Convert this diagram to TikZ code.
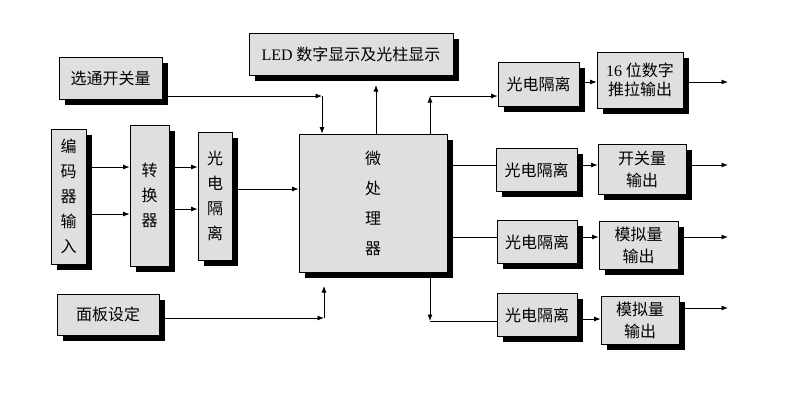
\documentclass[tikz,border=0pt]{standalone}
\usepackage{fontspec}
\setmainfont{Liberation Serif}
\newfontfamily\cjk{Noto Sans CJK SC}
\usetikzlibrary{shadows,arrows.meta}
\begin{document}
\begin{tikzpicture}[x=1pt,y=-1pt,
  blk/.style={draw=black, line width=0.8pt, fill=gray!25, inner sep=0pt, align=center,
    font=\cjk\fontsize{16}{20}\selectfont,
    drop shadow={shadow xshift=5.5pt, shadow yshift=-5.5pt, fill=black, opacity=1}},
  arr/.style={line width=0.8pt, -{Latex[length=6.5pt,width=5pt]}},
  ln/.style={line width=0.8pt}]
\useasboundingbox (0,0) rectangle (796,410);
% left side
\node[blk, minimum width=103pt, minimum height=42pt] (xt) at (110.5,78) {选通开关量};
\node[blk, minimum width=35pt, minimum height=135pt, font=\cjk\fontsize{16}{25}\selectfont] (bm) at (68.5,196.5) {编\\码\\器\\输\\入};
\node[blk, minimum width=39pt, minimum height=141pt, font=\cjk\fontsize{16}{25}\selectfont] (zh) at (149.5,195.5) {转\\换\\器};
\node[blk, minimum width=34pt, minimum height=128pt, font=\cjk\fontsize{16}{25}\selectfont] (gd) at (215,196) {光\\电\\隔\\离};
\node[blk, minimum width=102pt, minimum height=41pt] (mb) at (108,314.5) {面板设定};
% centre
\node[blk, minimum width=204pt, minimum height=42pt] (led) at (351,54) {{\rmfamily LED} 数字显示及光柱显示};
\node[blk, minimum width=148pt, minimum height=138pt, font=\cjk\fontsize{16}{30}\selectfont] (mcu) at (373,203) {微\\处\\理\\器};
% right side
\node[blk, minimum width=81pt, minimum height=44pt] (g1) at (538.5,84) {光电隔离};
\node[blk, minimum width=86pt, minimum height=56pt, font=\cjk\fontsize{16}{19}\selectfont] (o1) at (640,80) {{\rmfamily 16} 位数字\\推拉输出};
\node[blk, minimum width=81pt, minimum height=43pt] (g2) at (536.5,170) {光电隔离};
\node[blk, minimum width=88pt, minimum height=50pt, font=\cjk\fontsize{16}{22}\selectfont] (o2) at (642,169) {开关量\\输出};
\node[blk, minimum width=80pt, minimum height=43pt] (g3) at (537,242) {光电隔离};
\node[blk, minimum width=79pt, minimum height=48pt, font=\cjk\fontsize{16}{22}\selectfont] (o3) at (638.5,245) {模拟量\\输出};
\node[blk, minimum width=80pt, minimum height=43pt] (g4) at (537,315) {光电隔离};
\node[blk, minimum width=78pt, minimum height=48pt, font=\cjk\fontsize{16}{22}\selectfont] (o4) at (640,320) {模拟量\\输出};
% helper coordinates
\coordinate (c1) at (322,96);
\coordinate (c2) at (430,96);
\coordinate (c3) at (324,318);
\coordinate (c4) at (430,321);
\coordinate (ledin) at (376,85);
\coordinate (ledout) at (376,135);
\coordinate (mcuup) at (324,286);
\coordinate (y167) at (0,167);
\coordinate (y214) at (0,214);
\coordinate (y209) at (0,209);
\coordinate (y189) at (0,189);
\coordinate (y82) at (0,82);
\coordinate (y165) at (0,165);
\coordinate (y237) at (0,237);
\coordinate (y319) at (0,319);
\coordinate (y308) at (0,308);
\coordinate (xo) at (728,0);
\coordinate (mcubot) at (430,278);
% connectors
\draw[arr] (c1 -| xt.east) -- (c1);
\draw[arr] (c1) -- (c1 |- mcu.north);
\draw[arr] (ledout) -- (ledin);
\draw[arr] (c2 |- mcu.north) -- (c2);
\draw[arr] (c2) -- (c2 -| g1.west);
\draw[arr] (bm.east |- y167) -- (zh.west |- y167);
\draw[arr] (bm.east |- y214) -- (zh.west |- y214);
\draw[arr] (zh.east |- y167) -- (gd.west |- y167);
\draw[arr] (zh.east |- y209) -- (gd.west |- y209);
\draw[arr] (gd.east |- y189) -- (mcu.west |- y189);
\draw[arr] (c3 -| mb.east) -- (c3);
\draw[arr] (c3) -- (mcuup);
\draw[arr] (g1.east |- y82) -- (o1.west |- y82);
\draw[arr] (o1.east |- y82) -- (xo |- y82);
\draw[ln] (mcu.east |- y165) -- (g2.west |- y165);
\draw[arr] (g2.east |- y165) -- (o2.west |- y165);
\draw[arr] (o2.east |- y165) -- (xo |- y165);
\draw[ln] (mcu.east |- y237) -- (g3.west |- y237);
\draw[arr] (g3.east |- y237) -- (o3.west |- y237);
\draw[arr] (o3.east |- y237) -- (xo |- y237);
\draw[arr] (mcubot) -- (c4);
\draw[ln] (c4) -- (c4 -| g4.west);
\draw[arr] (g4.east |- y319) -- (o4.west |- y319);
\draw[arr] (o4.east |- y308) -- (xo |- y308);
\end{tikzpicture}
\end{document}
